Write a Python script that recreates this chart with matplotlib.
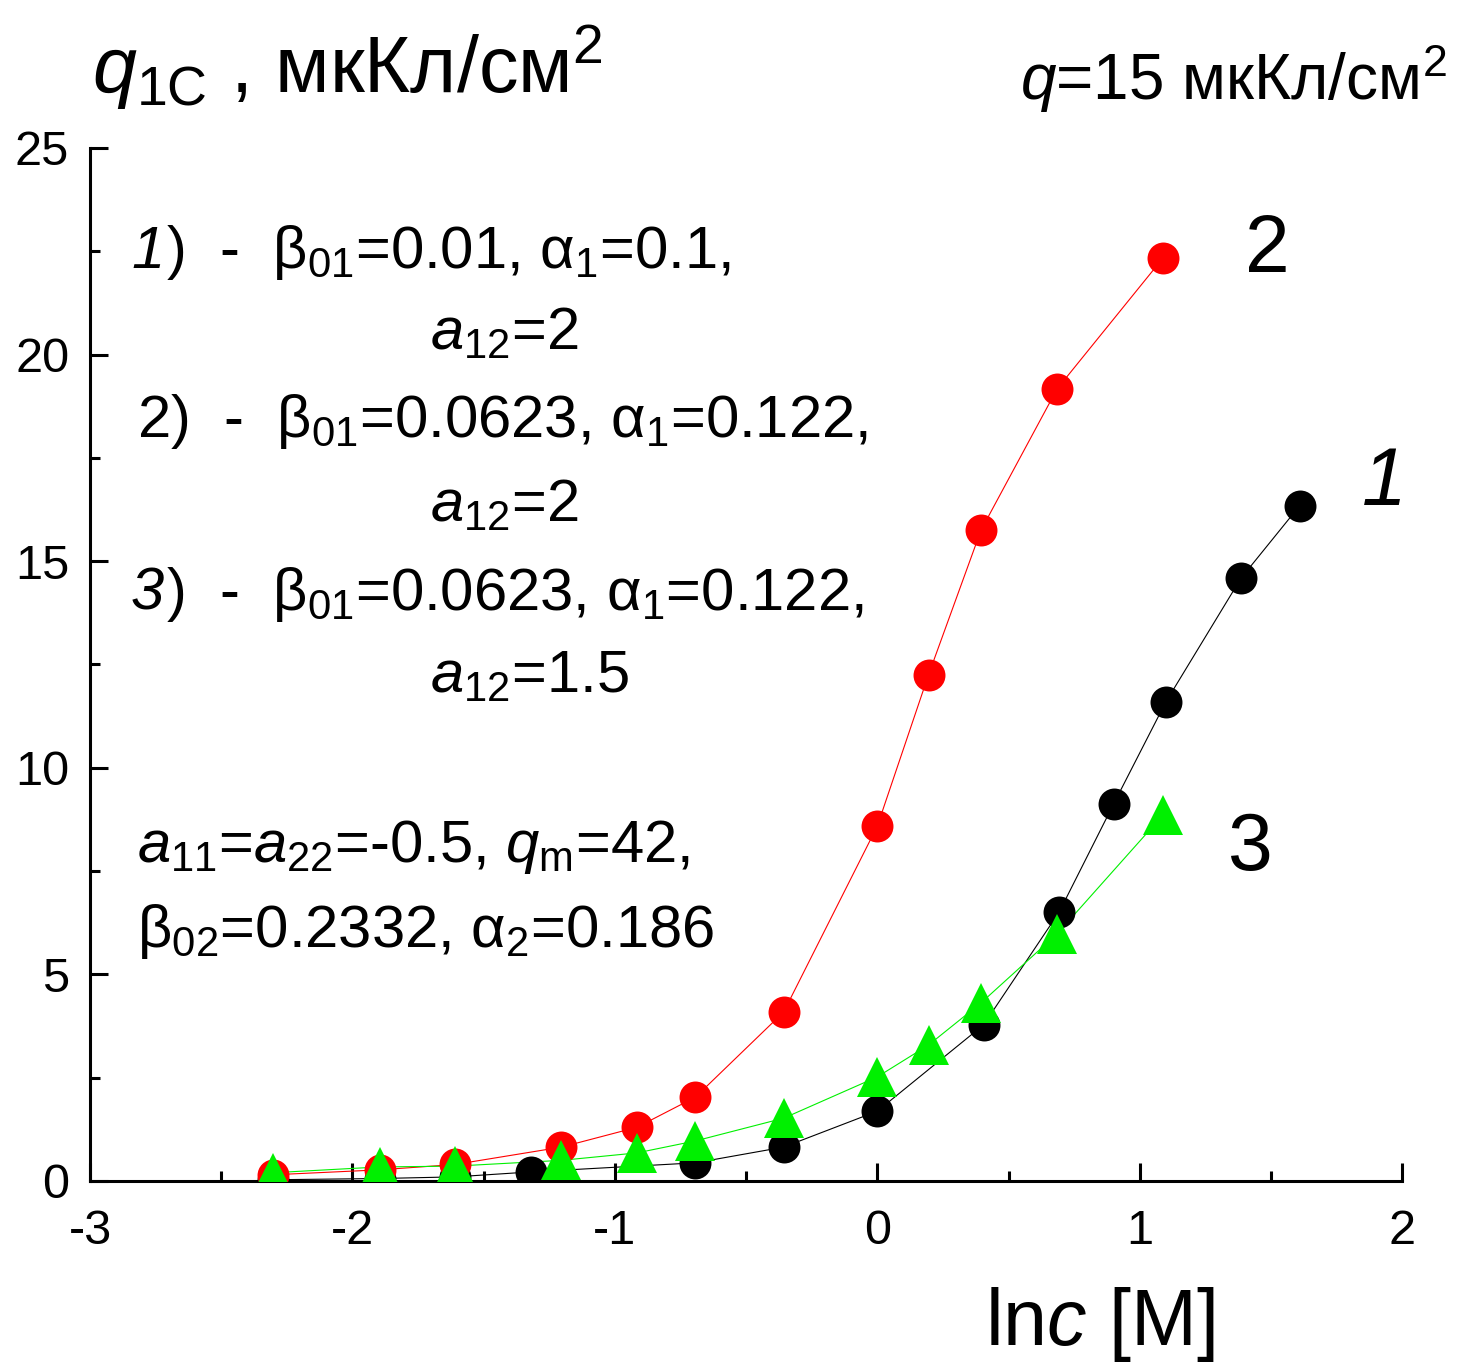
import matplotlib
matplotlib.use("Agg")
import matplotlib.pyplot as plt
from matplotlib.ticker import MultipleLocator

plt.rcParams['font.family'] = ['Liberation Sans', 'DejaVu Sans']
plt.rcParams['mathtext.fontset'] = 'custom'
plt.rcParams['mathtext.rm'] = 'Liberation Sans'
plt.rcParams['mathtext.it'] = 'Liberation Sans:italic'
plt.rcParams['mathtext.bf'] = 'Liberation Sans:bold'
plt.rcParams['axes.unicode_minus'] = False

# ---- data (ln c, q1C) ----
x1 = [-2.303, -1.897, -1.609, -1.32, -0.693, -0.357, 0.0, 0.405, 0.693, 0.90, 1.099, 1.386, 1.609]
y1 = [0.03, 0.06, 0.10, 0.22, 0.44, 0.82, 1.69, 3.78, 6.51, 9.12, 11.59, 14.59, 16.34]

x2 = [-2.303, -1.897, -1.609, -1.204, -0.916, -0.693, -0.357, 0.0, 0.195, 0.395, 0.685, 1.089]
y2 = [0.15, 0.27, 0.40, 0.82, 1.30, 2.03, 4.09, 8.59, 12.25, 15.75, 19.17, 22.34]

x3 = [-2.303, -1.897, -1.609, -1.204, -0.916, -0.693, -0.357, 0.0, 0.195, 0.395, 0.685, 1.089]
y3 = [0.20, 0.34, 0.36, 0.50, 0.68, 0.97, 1.52, 2.52, 3.29, 4.31, 5.98, 8.86]

xticks = [-3, -2, -1, 0, 1, 2]
yticks = [0, 5, 10, 15, 20, 25]

green = '#00F000'

fig = plt.figure(figsize=(14.62, 13.65), dpi=100)
ax = fig.add_axes([0.0616, 0.1348, 0.8975, 0.7568])

lw = 0.8
ax.plot(x1, y1, '-', color='black', lw=lw, zorder=2)
ax.plot(x2, y2, '-', color='red', lw=lw, zorder=2)
ax.plot(x3, y3, '-', color=green, lw=lw, zorder=2)
ax.plot(x1, y1, 'o', color='black', ms=23, mew=0, zorder=3)
ax.plot(x2, y2, 'o', color='red', ms=23, mew=0, zorder=4)
ax.plot(x3, y3, '^', color=green, ms=29, mew=0, zorder=5)

ax.set_xlim(-3, 2)
ax.set_ylim(0, 25)
ax.set_xticks(xticks)
ax.set_yticks(yticks)
ax.xaxis.set_minor_locator(MultipleLocator(0.5))
ax.yaxis.set_minor_locator(MultipleLocator(2.5))
for s in ['top', 'right']:
    ax.spines[s].set_visible(False)
for s in ['left', 'bottom']:
    ax.spines[s].set_linewidth(2.2)
ax.tick_params(which='major', direction='in', length=13, width=2.2, labelsize=35)
ax.tick_params(which='minor', direction='in', length=7, width=2.2)
ax.tick_params(axis='x', which='major', pad=20)
ax.tick_params(axis='y', which='major', pad=15)

def px(x, y):
    return (x / 1462.0, 1 - y / 1365.0)

# title (y label)
fig.text(*px(92, 93), r'$q_{\mathrm{1C}}$ , мкКл/см$^{2}$', fontsize=57, ha='left', va='baseline')
fig.text(*px(1020, 100), r'$q$=15 мкКл/см$^{2}$', fontsize=46, ha='left', va='baseline')

fs = 43
fig.text(*px(131, 268), '1', fontsize=fs, style='italic', ha='left', va='baseline')
fig.text(*px(166, 268), r')  -  β$_{01}$=0.01, α$_{1}$=0.1,', fontsize=fs, ha='left', va='baseline')
fig.text(*px(430, 350), r'$a_{12}$=2', fontsize=fs, ha='left', va='baseline')
fig.text(*px(137, 437), r'2)  -  β$_{01}$=0.0623, α$_{1}$=0.122,', fontsize=fs, ha='left', va='baseline')
fig.text(*px(430, 522), r'$a_{12}$=2', fontsize=fs, ha='left', va='baseline')
fig.text(*px(131, 610), '3', fontsize=fs, style='italic', ha='left', va='baseline')
fig.text(*px(166, 610), r')  -  β$_{01}$=0.0623, α$_{1}$=0.122,', fontsize=fs, ha='left', va='baseline')
fig.text(*px(430, 693), r'$a_{12}$=1.5', fontsize=fs, ha='left', va='baseline')

fig.text(*px(137, 862), r'$a_{11}$=$a_{22}$=-0.5, $q_{\mathrm{m}}$=42,', fontsize=fs, ha='left', va='baseline')
fig.text(*px(137, 947), r'β$_{02}$=0.2332, α$_{2}$=0.186', fontsize=fs, ha='left', va='baseline')

# curve labels
fig.text(*px(1245, 272), '2', fontsize=58, ha='left', va='baseline')
fig.text(*px(1362, 505), '1', fontsize=58, style='italic', ha='left', va='baseline')
fig.text(*px(1228, 870), '3', fontsize=58, ha='left', va='baseline')

# x label
fig.text(*px(985, 1345), r'ln$c$ [M]', fontsize=57, ha='left', va='baseline')

fig.savefig('out.png', dpi=100)
